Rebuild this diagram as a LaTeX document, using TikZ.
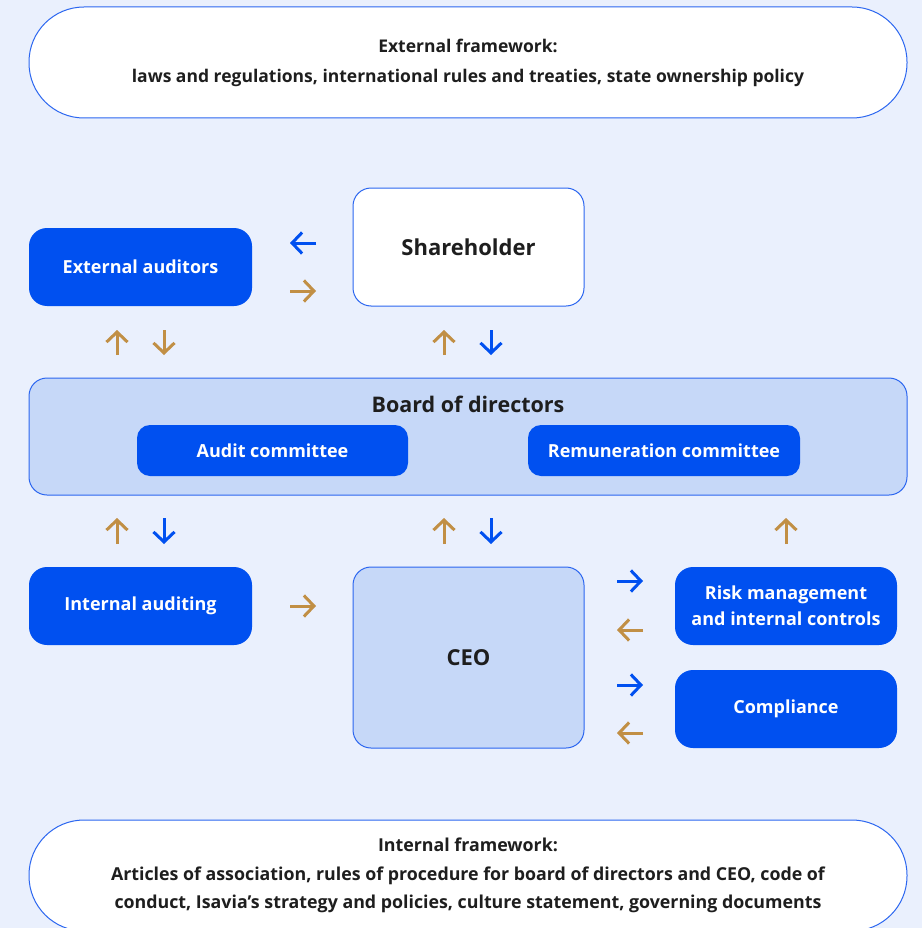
\documentclass[tikz,border=0pt]{standalone}
\usepackage{fontspec}
\setmainfont{Open Sans}
\usetikzlibrary{arrows.meta}
\definecolor{bg}{HTML}{EAF0FD}
\definecolor{bblue}{HTML}{0050F0}
\definecolor{edgeblue}{HTML}{2B66F0}
\definecolor{lightblue}{HTML}{C6D8F8}
\definecolor{tanc}{HTML}{C18F45}
\definecolor{txt}{HTML}{1E1E1E}
\tikzset{
  box/.style={rectangle, inner sep=0pt, align=center, font=\bfseries\fontsize{18}{26}\selectfont},
  solidbox/.style={box, fill=bblue, text=white, rounded corners=18pt},
  whitebox/.style={box, fill=white, draw=edgeblue, line width=1pt, text=txt, rounded corners=18pt},
  pill/.style={box, fill=white, draw=edgeblue, line width=1pt, text=txt, rounded corners=55pt, minimum width=878pt, minimum height=111pt},
  arr/.style={line width=3pt, -{Straight Barb[length=10pt,width=21pt,line width=3pt]}},
  bluearr/.style={arr, draw=bblue},
  tanarr/.style={arr, draw=tanc},
}
\begin{document}
\begin{tikzpicture}[x=1pt,y=-1pt]
\fill[bg] (0,0) rectangle (922,928);
\useasboundingbox (0,0) rectangle (922,928);
\begin{scope}
\clip (0,0) rectangle (922,928);
% frameworks
\node[pill, font=\bfseries\fontsize{17.5}{30}\selectfont] (ext) at (468,62.5) {External framework:\\laws and regulations, international rules and treaties, state ownership policy};
\node[pill, font=\bfseries\fontsize{17.8}{28.5}\selectfont] (int) at (468,875.5) {Internal framework:\\Articles of association, rules of procedure for board of directors and CEO, code of\\conduct, Isavia’s strategy and policies, culture statement, governing documents};
\end{scope}
% top row
\node[whitebox, minimum width=231pt, minimum height=118pt, font=\bfseries\fontsize{22}{26}\selectfont] (sh) at (468.5,247) {Shareholder};
\node[solidbox, minimum width=223pt, minimum height=78pt] (ea) at (140.5,267) {External auditors};
% board
\node[box, fill=lightblue, draw=edgeblue, line width=1pt, rounded corners=18pt, minimum width=878pt, minimum height=117pt] (board) at (468,436.5) {};
\node[box, text=txt, font=\bfseries\fontsize{21.5}{26}\selectfont, anchor=center] (boardlbl) at (468,404) {Board of directors};
\node[solidbox, rounded corners=13pt, minimum width=271pt, minimum height=51pt] (ac) at (272.5,450.5) {Audit committee};
\node[solidbox, rounded corners=13pt, minimum width=272pt, minimum height=51pt] (rc) at (664,450.5) {Remuneration committee};
% bottom row
\node[solidbox, minimum width=223pt, minimum height=78pt] (ia) at (140.5,606) {Internal auditing};
\node[box, fill=lightblue, draw=edgeblue, line width=1pt, rounded corners=18pt, text=txt, minimum width=231pt, minimum height=181pt, font=\bfseries\fontsize{22}{26}\selectfont] (ceo) at (468.5,657.5) {CEO};
\node[solidbox, minimum width=222pt, minimum height=78pt] (risk) at (786,606) {Risk management\\and internal controls};
\node[solidbox, minimum width=222pt, minimum height=78pt] (comp) at (786,709) {Compliance};
% arrow end points
\coordinate (a1s) at (316,243); \coordinate (a1e) at (290,243);
\coordinate (a2s) at (290,291); \coordinate (a2e) at (316,291);
\coordinate (v1s) at (117,355); \coordinate (v1e) at (117,330);
\coordinate (v2s) at (164,330); \coordinate (v2e) at (164,355);
\coordinate (v3s) at (444,355); \coordinate (v3e) at (444,330);
\coordinate (v4s) at (491,330); \coordinate (v4e) at (491,355);
\coordinate (w1s) at (117,544); \coordinate (w1e) at (117,518);
\coordinate (w2s) at (164,518); \coordinate (w2e) at (164,544);
\coordinate (w3s) at (444,544); \coordinate (w3e) at (444,518);
\coordinate (w4s) at (491,518); \coordinate (w4e) at (491,544);
\coordinate (w5s) at (786,544); \coordinate (w5e) at (786,518);
\coordinate (h1s) at (290,606); \coordinate (h1e) at (316,606);
\coordinate (r1s) at (617,581); \coordinate (r1e) at (643,581);
\coordinate (r2s) at (643,630); \coordinate (r2e) at (617,630);
\coordinate (r3s) at (617,685); \coordinate (r3e) at (643,685);
\coordinate (r4s) at (643,733); \coordinate (r4e) at (617,733);
% arrows
\draw[bluearr] (a1s) -- (a1e);
\draw[tanarr] (a2s) -- (a2e);
\draw[tanarr] (v1s) -- (v1e);
\draw[tanarr] (v2s) -- (v2e);
\draw[tanarr] (v3s) -- (v3e);
\draw[bluearr] (v4s) -- (v4e);
\draw[tanarr] (w1s) -- (w1e);
\draw[bluearr] (w2s) -- (w2e);
\draw[tanarr] (w3s) -- (w3e);
\draw[bluearr] (w4s) -- (w4e);
\draw[tanarr] (w5s) -- (w5e);
\draw[tanarr] (h1s) -- (h1e);
\draw[bluearr] (r1s) -- (r1e);
\draw[tanarr] (r2s) -- (r2e);
\draw[bluearr] (r3s) -- (r3e);
\draw[tanarr] (r4s) -- (r4e);
\end{tikzpicture}
\end{document}
